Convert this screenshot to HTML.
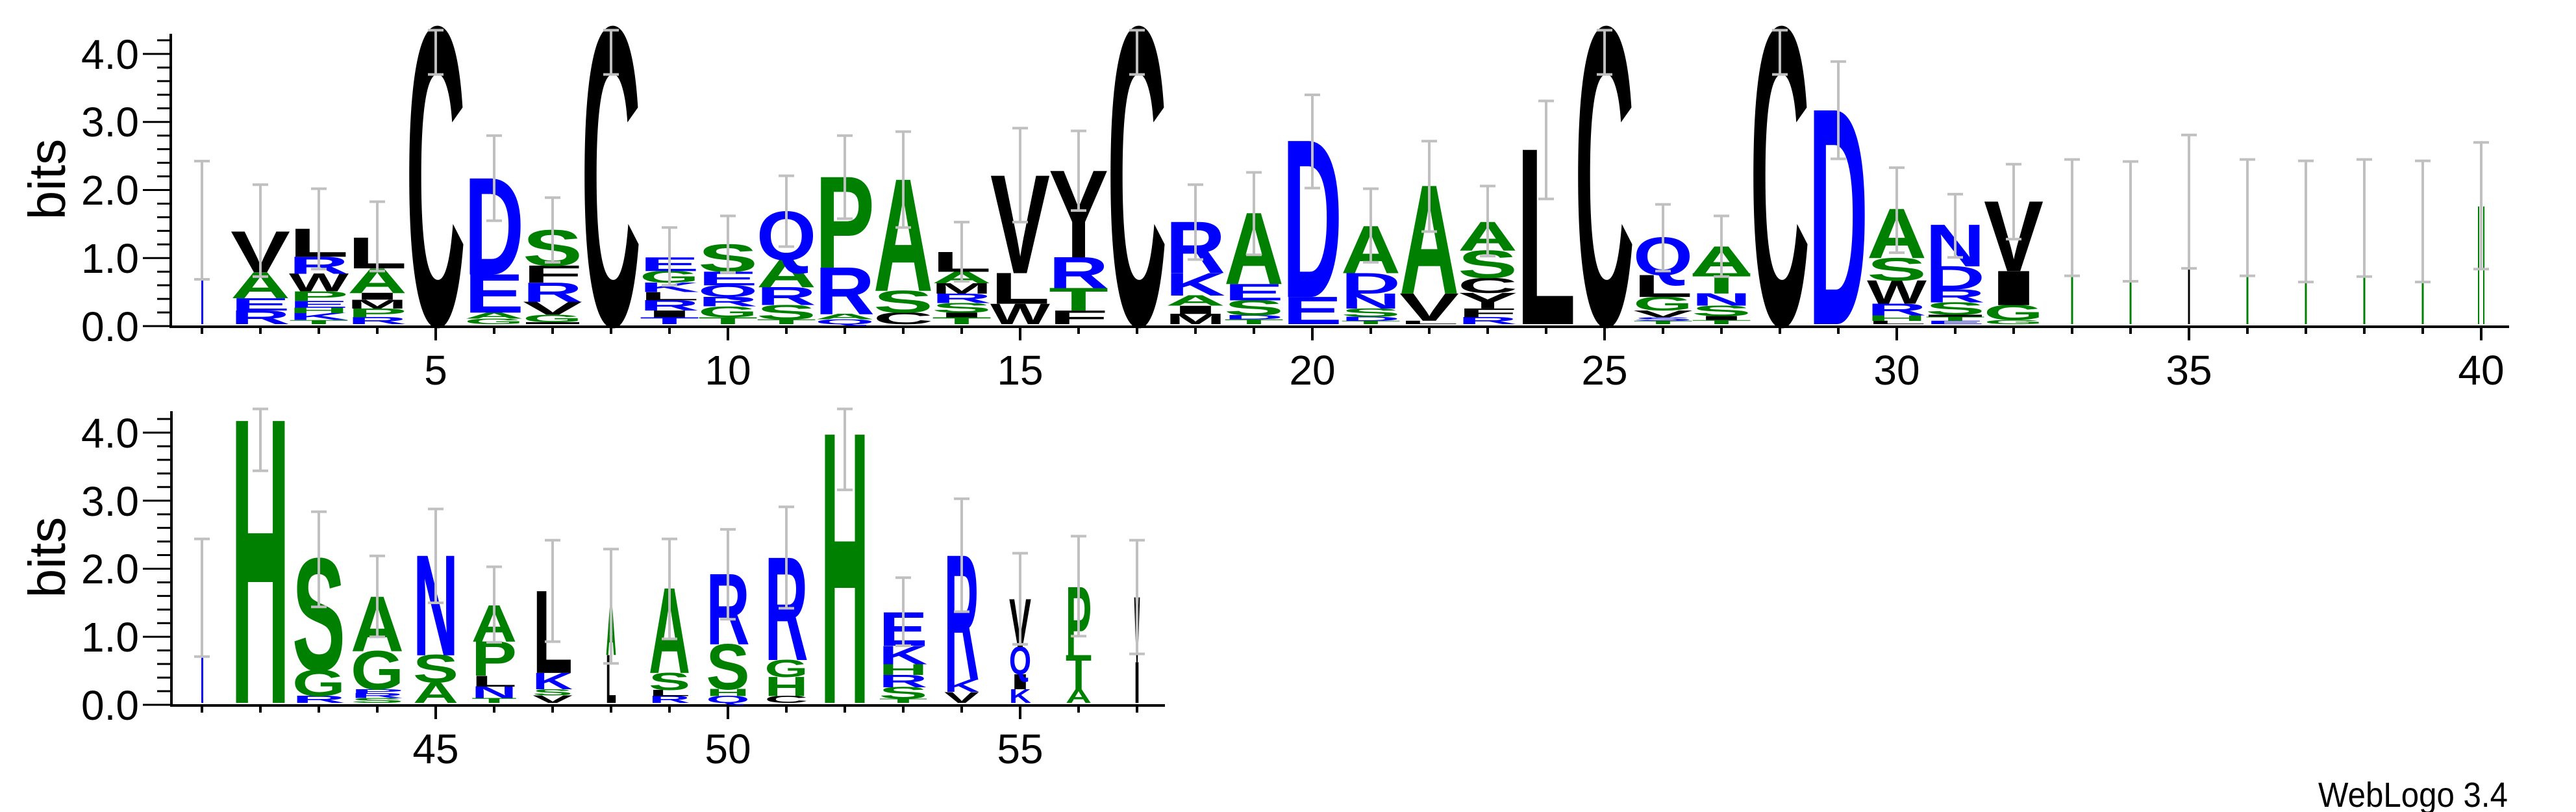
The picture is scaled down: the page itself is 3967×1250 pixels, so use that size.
<!DOCTYPE html>
<html><head><meta charset="utf-8"><style>
html,body{margin:0;padding:0;background:#fff}
svg{display:block}
.l{font-family:"Liberation Sans",sans-serif;font-weight:bold;font-size:106px}
.g{fill:#008000}.b{fill:#0000ff}.k{fill:#000}
.t{font-family:"Liberation Sans",sans-serif;font-size:64px;fill:#000}
.e{stroke:#c0c0c0;stroke-width:4;fill:none}
</style></head><body>
<svg width="3967" height="1250" viewBox="0 0 3967 1250" xmlns="http://www.w3.org/2000/svg">
<rect width="3967" height="1250" fill="#fff"/>
<!-- axes -->
<g stroke="#000" fill="none">
<path stroke-width="4" d="M263 52V504M264 1085V633"/>
<path stroke-width="4" d="M261 503H3864M262 1086H1794"/>
<path stroke-width="3" d="M220 502H263M242 481.05H263M242 460.1H263M242 439.15H263M242 418.2H263M220 397.25H263M242 376.3H263M242 355.35H263M242 334.4H263M242 313.45H263M220 292.5H263M242 271.55H263M242 250.6H263M242 229.65H263M242 208.7H263M220 187.75H263M242 166.8H263M242 145.85H263M242 124.9H263M242 103.95H263M220 83H263M242 62.05H263"/>
<path stroke-width="3" d="M220 1085H264M242 1064.05H264M242 1043.1H264M242 1022.15H264M242 1001.2H264M220 980.25H264M242 959.3H264M242 938.35H264M242 917.4H264M242 896.45H264M220 875.5H264M242 854.55H264M242 833.6H264M242 812.65H264M242 791.7H264M220 770.75H264M242 749.8H264M242 728.85H264M242 707.9H264M242 686.95H264M220 666H264M242 645.05H264"/>
<path stroke-width="4" d="M311 503V514M401 503V514M491 503V514M581 503V514M671 503V524M761 503V514M851 503V514M941 503V514M1031 503V514M1121 503V524M1211 503V514M1301 503V514M1391 503V514M1481 503V514M1571 503V524M1661 503V514M1751 503V514M1841 503V514M1931 503V514M2021 503V524M2111 503V514M2201 503V514M2291 503V514M2381 503V514M2471 503V524M2561 503V514M2651 503V514M2741 503V514M2831 503V514M2921 503V524M3011 503V514M3101 503V514M3191 503V514M3281 503V514M3371 503V524M3461 503V514M3551 503V514M3641 503V514M3731 503V514M3821 503V524"/>
<path stroke-width="4" d="M311 1086V1097M401 1086V1097M491 1086V1097M581 1086V1097M671 1086V1107M761 1086V1097M851 1086V1097M941 1086V1097M1031 1086V1097M1121 1086V1107M1211 1086V1097M1301 1086V1097M1391 1086V1097M1481 1086V1097M1571 1086V1107M1661 1086V1097M1751 1086V1097"/>
</g>
<!-- labels -->
<g class="t" text-anchor="end">
<text x="214" y="525">0.0</text><text x="214" y="420">1.0</text><text x="214" y="315">2.0</text><text x="214" y="210">3.0</text><text x="214" y="106">4.0</text>
<text x="214" y="1108">0.0</text><text x="214" y="1003">1.0</text><text x="214" y="898">2.0</text><text x="214" y="794">3.0</text><text x="214" y="689">4.0</text>
</g>
<g class="t" text-anchor="middle">
<text x="671" y="592">5</text><text x="1121" y="592">10</text><text x="1571" y="592">15</text><text x="2021" y="592">20</text><text x="2471" y="592">25</text><text x="2921" y="592">30</text><text x="3371" y="592">35</text><text x="3821" y="592">40</text>
<text x="671" y="1175">45</text><text x="1121" y="1175">50</text><text x="1571" y="1175">55</text>
</g>
<text class="t" style="font-size:80px" text-anchor="middle" transform="translate(100,276) rotate(-90)">bits</text>
<text class="t" style="font-size:80px" text-anchor="middle" transform="translate(100,858) rotate(-90)">bits</text>
<text class="t" style="font-size:54px" x="3570" y="1242" textLength="292" lengthAdjust="spacingAndGlyphs">WebLogo 3.4</text>

<g transform="translate(0,-3)">
<!-- top panel letters -->
<rect class="b" x="310" y="342" width="3" height="160"/>
<text class="l b" textLength="92" lengthAdjust="spacingAndGlyphs" transform="translate(355,502) scale(1,.287)">R</text>
<text class="l b" textLength="92" lengthAdjust="spacingAndGlyphs" transform="translate(355,481) scale(1,.259)">E</text>
<text class="l g" textLength="92" lengthAdjust="spacingAndGlyphs" transform="translate(355,462.1) scale(1,.546)">A</text>
<text class="l k" textLength="92" lengthAdjust="spacingAndGlyphs" transform="translate(355,422.3) scale(1,.862)">V</text>

<text class="l g" textLength="92" lengthAdjust="spacingAndGlyphs" transform="translate(445,502) scale(1,.086)">T</text>
<text class="l b" textLength="92" lengthAdjust="spacingAndGlyphs" transform="translate(445,495.7) scale(1,.144)">K</text>
<text class="l g" textLength="92" lengthAdjust="spacingAndGlyphs" transform="translate(445,485.2) scale(1,.115)">H</text>
<text class="l b" textLength="92" lengthAdjust="spacingAndGlyphs" transform="translate(445,476.8) scale(1,.144)">E</text>
<text class="l g" textLength="92" lengthAdjust="spacingAndGlyphs" transform="translate(445,466.3) scale(1,.201)">P</text>
<text class="l k" textLength="92" lengthAdjust="spacingAndGlyphs" transform="translate(445,451.6) scale(1,.374)">W</text>
<text class="l b" textLength="92" lengthAdjust="spacingAndGlyphs" transform="translate(445,424.4) scale(1,.359)">R</text>
<text class="l k" textLength="92" lengthAdjust="spacingAndGlyphs" transform="translate(445,398.2) scale(1,.589)">L</text>

<text class="l b" textLength="92" lengthAdjust="spacingAndGlyphs" transform="translate(535,502) scale(1,.144)">R</text>
<text class="l g" textLength="92" lengthAdjust="spacingAndGlyphs" transform="translate(535,491.5) scale(1,.187)">P</text>
<text class="l k" textLength="92" lengthAdjust="spacingAndGlyphs" transform="translate(535,477.9) scale(1,.187)">M</text>
<text class="l k" textLength="92" lengthAdjust="spacingAndGlyphs" transform="translate(535,464.3) scale(1,.144)">I</text>
<text class="l g" textLength="92" lengthAdjust="spacingAndGlyphs" transform="translate(535,453.8) scale(1,.517)">A</text>
<text class="l k" textLength="92" lengthAdjust="spacingAndGlyphs" transform="translate(535,416.1) scale(1,.647)">L</text>

<text class="l k" textLength="92" lengthAdjust="spacingAndGlyphs" transform="translate(625,502) scale(1,6.207)">C</text>

<text class="l g" textLength="92" lengthAdjust="spacingAndGlyphs" transform="translate(715,502) scale(1,.115)">G</text>
<text class="l g" textLength="92" lengthAdjust="spacingAndGlyphs" transform="translate(715,493.6) scale(1,.129)">A</text>
<text class="l b" textLength="92" lengthAdjust="spacingAndGlyphs" transform="translate(715,484.2) scale(1,.805)">E</text>
<text class="l b" textLength="92" lengthAdjust="spacingAndGlyphs" transform="translate(715,425.5) scale(1,2.026)">D</text>

<rect class="k" x="810" y="498.9" width="82" height="3"/>
<text class="l g" textLength="92" lengthAdjust="spacingAndGlyphs" transform="translate(805,498.9) scale(1,.158)">G</text>
<text class="l k" textLength="92" lengthAdjust="spacingAndGlyphs" transform="translate(805,487.4) scale(1,.273)">V</text>
<text class="l b" textLength="92" lengthAdjust="spacingAndGlyphs" transform="translate(805,467.5) scale(1,.402)">R</text>
<text class="l k" textLength="92" lengthAdjust="spacingAndGlyphs" transform="translate(805,438.1) scale(1,.359)">F</text>
<text class="l g" textLength="92" lengthAdjust="spacingAndGlyphs" transform="translate(805,411.9) scale(1,.747)">S</text>

<text class="l k" textLength="92" lengthAdjust="spacingAndGlyphs" transform="translate(895,502) scale(1,6.207)">C</text>

<text class="l b" textLength="92" lengthAdjust="spacingAndGlyphs" transform="translate(985,502) scale(1,.144)">T</text>
<text class="l k" textLength="92" lengthAdjust="spacingAndGlyphs" transform="translate(985,491.5) scale(1,.144)">I</text>
<text class="l b" textLength="92" lengthAdjust="spacingAndGlyphs" transform="translate(985,481) scale(1,.216)">R</text>
<text class="l k" textLength="92" lengthAdjust="spacingAndGlyphs" transform="translate(985,465.3) scale(1,.172)">L</text>
<text class="l b" textLength="92" lengthAdjust="spacingAndGlyphs" transform="translate(985,452.7) scale(1,.201)">K</text>
<text class="l g" textLength="92" lengthAdjust="spacingAndGlyphs" transform="translate(985,438) scale(1,.244)">G</text>
<text class="l b" textLength="92" lengthAdjust="spacingAndGlyphs" transform="translate(985,420.2) scale(1,.287)">E</text>

<text class="l g" textLength="92" lengthAdjust="spacingAndGlyphs" transform="translate(1075,502) scale(1,.144)">T</text>
<text class="l g" textLength="92" lengthAdjust="spacingAndGlyphs" transform="translate(1075,491.5) scale(1,.23)">G</text>
<text class="l b" textLength="92" lengthAdjust="spacingAndGlyphs" transform="translate(1075,474.7) scale(1,.201)">R</text>
<text class="l b" textLength="92" lengthAdjust="spacingAndGlyphs" transform="translate(1075,460) scale(1,.244)">Q</text>
<text class="l b" textLength="92" lengthAdjust="spacingAndGlyphs" transform="translate(1075,442.2) scale(1,.287)">E</text>
<text class="l g" textLength="92" lengthAdjust="spacingAndGlyphs" transform="translate(1075,421.3) scale(1,.575)">S</text>

<text class="l g" textLength="92" lengthAdjust="spacingAndGlyphs" transform="translate(1165,502) scale(1,.101)">T</text>
<text class="l g" textLength="92" lengthAdjust="spacingAndGlyphs" transform="translate(1165,494.7) scale(1,.302)">S</text>
<text class="l b" textLength="92" lengthAdjust="spacingAndGlyphs" transform="translate(1165,472.7) scale(1,.374)">R</text>
<text class="l g" textLength="92" lengthAdjust="spacingAndGlyphs" transform="translate(1165,445.5) scale(1,.575)">A</text>
<text class="l b" textLength="92" lengthAdjust="spacingAndGlyphs" transform="translate(1165,403.6) scale(1,1.02)">Q</text>

<text class="l b" textLength="92" lengthAdjust="spacingAndGlyphs" transform="translate(1255,502) scale(1,.101)">Q</text>
<text class="l g" textLength="92" lengthAdjust="spacingAndGlyphs" transform="translate(1255,494.7) scale(1,.115)">A</text>
<text class="l b" textLength="92" lengthAdjust="spacingAndGlyphs" transform="translate(1255,486.3) scale(1,.977)">R</text>
<text class="l g" textLength="92" lengthAdjust="spacingAndGlyphs" transform="translate(1255,415.1) scale(1,1.911)">P</text>

<text class="l k" textLength="92" lengthAdjust="spacingAndGlyphs" transform="translate(1345,502) scale(1,.244)">C</text>
<text class="l g" textLength="92" lengthAdjust="spacingAndGlyphs" transform="translate(1345,484.2) scale(1,.46)">S</text>
<text class="l g" textLength="92" lengthAdjust="spacingAndGlyphs" transform="translate(1345,450.7) scale(1,2.342)">A</text>

<text class="l g" textLength="92" lengthAdjust="spacingAndGlyphs" transform="translate(1435,502) scale(1,.144)">T</text>
<text class="l k" textLength="92" lengthAdjust="spacingAndGlyphs" transform="translate(1435,491.5) scale(1,.101)">I</text>
<text class="l g" textLength="92" lengthAdjust="spacingAndGlyphs" transform="translate(1435,484.2) scale(1,.201)">S</text>
<text class="l b" textLength="92" lengthAdjust="spacingAndGlyphs" transform="translate(1435,469.5) scale(1,.201)">R</text>
<text class="l k" textLength="92" lengthAdjust="spacingAndGlyphs" transform="translate(1435,454.9) scale(1,.216)">M</text>
<text class="l g" textLength="92" lengthAdjust="spacingAndGlyphs" transform="translate(1435,439.2) scale(1,.244)">A</text>
<text class="l k" textLength="92" lengthAdjust="spacingAndGlyphs" transform="translate(1435,421.4) scale(1,.417)">L</text>

<text class="l k" textLength="92" lengthAdjust="spacingAndGlyphs" transform="translate(1525,502) scale(1,.431)">W</text>
<text class="l k" textLength="92" lengthAdjust="spacingAndGlyphs" transform="translate(1525,470.6) scale(1,.647)">L</text>
<text class="l k" textLength="92" lengthAdjust="spacingAndGlyphs" transform="translate(1525,423.5) scale(1,2.055)">V</text>

<text class="l k" textLength="92" lengthAdjust="spacingAndGlyphs" transform="translate(1615,502) scale(1,.287)">F</text>
<text class="l g" textLength="92" lengthAdjust="spacingAndGlyphs" transform="translate(1615,481) scale(1,.474)">T</text>
<text class="l b" textLength="92" lengthAdjust="spacingAndGlyphs" transform="translate(1615,446.4) scale(1,.647)">R</text>
<text class="l k" textLength="92" lengthAdjust="spacingAndGlyphs" transform="translate(1615,399.3) scale(1,1.825)">Y</text>

<text class="l k" textLength="92" lengthAdjust="spacingAndGlyphs" transform="translate(1705,502) scale(1,6.207)">C</text>

<text class="l k" textLength="92" lengthAdjust="spacingAndGlyphs" transform="translate(1795,502) scale(1,.216)">M</text>
<text class="l k" textLength="92" lengthAdjust="spacingAndGlyphs" transform="translate(1795,486.3) scale(1,.172)">I</text>
<text class="l g" textLength="92" lengthAdjust="spacingAndGlyphs" transform="translate(1795,473.7) scale(1,.216)">A</text>
<text class="l b" textLength="92" lengthAdjust="spacingAndGlyphs" transform="translate(1795,458) scale(1,.474)">K</text>
<text class="l b" textLength="92" lengthAdjust="spacingAndGlyphs" transform="translate(1795,423.4) scale(1,1.078)">R</text>

<text class="l g" textLength="92" lengthAdjust="spacingAndGlyphs" transform="translate(1885,502) scale(1,.101)">T</text>
<text class="l b" textLength="92" lengthAdjust="spacingAndGlyphs" transform="translate(1885,494.7) scale(1,.086)">D</text>
<text class="l g" textLength="92" lengthAdjust="spacingAndGlyphs" transform="translate(1885,488.4) scale(1,.316)">S</text>
<text class="l b" textLength="92" lengthAdjust="spacingAndGlyphs" transform="translate(1885,465.4) scale(1,.345)">E</text>
<text class="l g" textLength="92" lengthAdjust="spacingAndGlyphs" transform="translate(1885,440.2) scale(1,1.494)">A</text>

<text class="l b" textLength="92" lengthAdjust="spacingAndGlyphs" transform="translate(1975,502) scale(1,.575)">E</text>
<text class="l b" textLength="92" lengthAdjust="spacingAndGlyphs" transform="translate(1975,460.1) scale(1,3.29)">D</text>

<text class="l g" textLength="92" lengthAdjust="spacingAndGlyphs" transform="translate(2065,502) scale(1,.072)">T</text>
<text class="l b" textLength="92" lengthAdjust="spacingAndGlyphs" transform="translate(2065,496.8) scale(1,.086)">D</text>
<text class="l g" textLength="92" lengthAdjust="spacingAndGlyphs" transform="translate(2065,490.5) scale(1,.172)">S</text>
<text class="l b" textLength="92" lengthAdjust="spacingAndGlyphs" transform="translate(2065,477.9) scale(1,.316)">N</text>
<text class="l b" textLength="92" lengthAdjust="spacingAndGlyphs" transform="translate(2065,454.9) scale(1,.431)">D</text>
<text class="l g" textLength="92" lengthAdjust="spacingAndGlyphs" transform="translate(2065,423.4) scale(1,.991)">A</text>

<text class="l k" textLength="92" lengthAdjust="spacingAndGlyphs" transform="translate(2155,502) scale(1,.072)">L</text>
<text class="l k" textLength="92" lengthAdjust="spacingAndGlyphs" transform="translate(2155,496.8) scale(1,.575)">V</text>
<text class="l g" textLength="92" lengthAdjust="spacingAndGlyphs" transform="translate(2155,454.9) scale(1,2.27)">A</text>

<text class="l b" textLength="92" lengthAdjust="spacingAndGlyphs" transform="translate(2245,502) scale(1,.144)">R</text>
<text class="l k" textLength="92" lengthAdjust="spacingAndGlyphs" transform="translate(2245,491.5) scale(1,.187)">F</text>
<text class="l k" textLength="92" lengthAdjust="spacingAndGlyphs" transform="translate(2245,477.9) scale(1,.33)">Y</text>
<text class="l k" textLength="92" lengthAdjust="spacingAndGlyphs" transform="translate(2245,453.8) scale(1,.316)">C</text>
<text class="l g" textLength="92" lengthAdjust="spacingAndGlyphs" transform="translate(2245,430.8) scale(1,.575)">S</text>
<text class="l g" textLength="92" lengthAdjust="spacingAndGlyphs" transform="translate(2245,388.9) scale(1,.604)">A</text>

<text class="l k" textLength="92" lengthAdjust="spacingAndGlyphs" transform="translate(2335,502) scale(1,3.678)">L</text>
<text class="l k" textLength="92" lengthAdjust="spacingAndGlyphs" transform="translate(2425,502) scale(1,6.207)">C</text>

<text class="l g" textLength="92" lengthAdjust="spacingAndGlyphs" transform="translate(2515,502) scale(1,.072)">T</text>
<text class="l b" textLength="92" lengthAdjust="spacingAndGlyphs" transform="translate(2515,496.8) scale(1,.072)">S</text>
<text class="l k" textLength="92" lengthAdjust="spacingAndGlyphs" transform="translate(2515,491.5) scale(1,.144)">V</text>
<text class="l g" textLength="92" lengthAdjust="spacingAndGlyphs" transform="translate(2515,481) scale(1,.287)">G</text>
<text class="l k" textLength="92" lengthAdjust="spacingAndGlyphs" transform="translate(2515,460.1) scale(1,.46)">L</text>
<text class="l b" textLength="92" lengthAdjust="spacingAndGlyphs" transform="translate(2515,426.6) scale(1,.79)">Q</text>

<text class="l g" textLength="92" lengthAdjust="spacingAndGlyphs" transform="translate(2605,502) scale(1,.086)">T</text>
<text class="l k" textLength="92" lengthAdjust="spacingAndGlyphs" transform="translate(2605,495.7) scale(1,.086)">I</text>
<text class="l g" textLength="92" lengthAdjust="spacingAndGlyphs" transform="translate(2605,489.4) scale(1,.216)">S</text>
<text class="l b" textLength="92" lengthAdjust="spacingAndGlyphs" transform="translate(2605,473.7) scale(1,.259)">N</text>
<text class="l g" textLength="92" lengthAdjust="spacingAndGlyphs" transform="translate(2605,454.9) scale(1,.431)">T</text>
<text class="l g" textLength="92" lengthAdjust="spacingAndGlyphs" transform="translate(2605,423.4) scale(1,.56)">A</text>

<text class="l k" textLength="92" lengthAdjust="spacingAndGlyphs" transform="translate(2695,502) scale(1,6.207)">C</text>
<text class="l b" textLength="92" lengthAdjust="spacingAndGlyphs" transform="translate(2785,502) scale(1,4.512)">D</text>

<text class="l k" textLength="92" lengthAdjust="spacingAndGlyphs" transform="translate(2875,502) scale(1,.072)">L</text>
<text class="l g" textLength="92" lengthAdjust="spacingAndGlyphs" transform="translate(2875,496.8) scale(1,.115)">H</text>
<text class="l b" textLength="92" lengthAdjust="spacingAndGlyphs" transform="translate(2875,488.4) scale(1,.244)">R</text>
<text class="l k" textLength="92" lengthAdjust="spacingAndGlyphs" transform="translate(2875,470.6) scale(1,.489)">W</text>
<text class="l g" textLength="92" lengthAdjust="spacingAndGlyphs" transform="translate(2875,435) scale(1,.474)">S</text>
<text class="l g" textLength="92" lengthAdjust="spacingAndGlyphs" transform="translate(2875,400.4) scale(1,1.035)">A</text>

<text class="l b" textLength="92" lengthAdjust="spacingAndGlyphs" transform="translate(2965,502) scale(1,.072)">E</text>
<text class="l g" textLength="92" lengthAdjust="spacingAndGlyphs" transform="translate(2965,496.8) scale(1,.086)">T</text>
<rect class="k" x="2970" y="487.5" width="82" height="3"/>
<text class="l g" textLength="92" lengthAdjust="spacingAndGlyphs" transform="translate(2965,487.4) scale(1,.259)">S</text>
<text class="l b" textLength="92" lengthAdjust="spacingAndGlyphs" transform="translate(2965,468.5) scale(1,.273)">R</text>
<text class="l b" textLength="92" lengthAdjust="spacingAndGlyphs" transform="translate(2965,448.6) scale(1,.489)">D</text>
<text class="l b" textLength="92" lengthAdjust="spacingAndGlyphs" transform="translate(2965,413) scale(1,.877)">N</text>

<text class="l g" textLength="92" lengthAdjust="spacingAndGlyphs" transform="translate(3055,502) scale(1,.086)">G</text>
<text class="l g" textLength="92" lengthAdjust="spacingAndGlyphs" transform="translate(3055,495.7) scale(1,.316)">G</text>
<text class="l k" textLength="92" lengthAdjust="spacingAndGlyphs" transform="translate(3055,472.7) scale(1,.718)">I</text>
<text class="l k" textLength="92" lengthAdjust="spacingAndGlyphs" transform="translate(3055,420.3) scale(1,1.466)">V</text>

<rect class="g" x="3189.5" y="337.5" width="3" height="164.5"/>
<rect class="g" x="3279.5" y="342.8" width="3" height="159.2"/>
<rect class="k" x="3369.5" y="311.4" width="3" height="190.6"/>
<rect class="g" x="3459.5" y="337.5" width="3" height="164.5"/>
<rect class="g" x="3549.5" y="344.9" width="3" height="157.1"/>
<rect class="g" x="3639.5" y="337.5" width="3" height="164.5"/>
<rect class="g" x="3729.5" y="344.9" width="3" height="157.1"/>
<rect class="g" x="3816" y="320.8" width="2" height="181.2"/>
<rect class="g" x="3824" y="320.8" width="2" height="181.2"/>

<!-- bottom panel letters -->
<rect class="b" x="310" y="922.6" width="3" height="162.4"/>
<text class="l g" textLength="92" lengthAdjust="spacingAndGlyphs" transform="translate(355,1085) scale(1,5.949)">H</text>

<text class="l b" textLength="82" lengthAdjust="spacingAndGlyphs" transform="translate(450,1085) scale(1,.144)">R</text>
<text class="l g" textLength="82" lengthAdjust="spacingAndGlyphs" transform="translate(450,1074.5) scale(1,.546)">G</text>
<text class="l g" textLength="82" lengthAdjust="spacingAndGlyphs" transform="translate(450,1034.7) scale(1,2.342)">S</text>

<text class="l g" textLength="82" lengthAdjust="spacingAndGlyphs" transform="translate(540,1085) scale(1,.101)">S</text>
<text class="l b" textLength="82" lengthAdjust="spacingAndGlyphs" transform="translate(540,1077.7) scale(1,.101)">R</text>
<text class="l b" textLength="82" lengthAdjust="spacingAndGlyphs" transform="translate(540,1070.3) scale(1,.086)">P</text>
<text class="l g" textLength="82" lengthAdjust="spacingAndGlyphs" transform="translate(540,1064) scale(1,.805)">G</text>
<text class="l g" textLength="82" lengthAdjust="spacingAndGlyphs" transform="translate(540,1005.4) scale(1,1.15)">A</text>

<text class="l g" textLength="70" lengthAdjust="spacingAndGlyphs" transform="translate(636,1085) scale(1,.431)">A</text>
<text class="l g" textLength="70" lengthAdjust="spacingAndGlyphs" transform="translate(636,1053.6) scale(1,.575)">S</text>
<text class="l b" textLength="70" lengthAdjust="spacingAndGlyphs" transform="translate(636,1011.7) scale(1,2.098)">N</text>

<text class="l g" textLength="70" lengthAdjust="spacingAndGlyphs" transform="translate(726,1085) scale(1,.101)">T</text>
<text class="l b" textLength="70" lengthAdjust="spacingAndGlyphs" transform="translate(726,1077.7) scale(1,.244)">N</text>
<text class="l k" textLength="70" lengthAdjust="spacingAndGlyphs" transform="translate(726,1059.9) scale(1,.23)">L</text>
<text class="l g" textLength="70" lengthAdjust="spacingAndGlyphs" transform="translate(726,1043.1) scale(1,.718)">P</text>
<text class="l g" textLength="70" lengthAdjust="spacingAndGlyphs" transform="translate(726,990.7) scale(1,.762)">A</text>

<text class="l k" textLength="62" lengthAdjust="spacingAndGlyphs" transform="translate(820,1085) scale(1,.158)">V</text>
<text class="l g" textLength="62" lengthAdjust="spacingAndGlyphs" transform="translate(820,1073.5) scale(1,.129)">S</text>
<text class="l b" textLength="62" lengthAdjust="spacingAndGlyphs" transform="translate(820,1064.1) scale(1,.345)">K</text>
<text class="l k" textLength="62" lengthAdjust="spacingAndGlyphs" transform="translate(820,1038.9) scale(1,1.724)">L</text>

<text class="l k" textLength="16" lengthAdjust="spacingAndGlyphs" transform="translate(933,1085) scale(1,1.006)">L</text>
<text class="l g" textLength="16" lengthAdjust="spacingAndGlyphs" transform="translate(933,1011.7) scale(1,1.035)">A</text>

<text class="l b" textLength="64" lengthAdjust="spacingAndGlyphs" transform="translate(999,1085) scale(1,.144)">R</text>
<text class="l k" textLength="64" lengthAdjust="spacingAndGlyphs" transform="translate(999,1074.5) scale(1,.129)">L</text>
<text class="l g" textLength="64" lengthAdjust="spacingAndGlyphs" transform="translate(999,1065.1) scale(1,.359)">S</text>
<text class="l g" textLength="64" lengthAdjust="spacingAndGlyphs" transform="translate(999,1038.9) scale(1,1.782)">A</text>

<text class="l b" textLength="67" lengthAdjust="spacingAndGlyphs" transform="translate(1087.5,1085) scale(1,.144)">Q</text>
<text class="l g" textLength="67" lengthAdjust="spacingAndGlyphs" transform="translate(1087.5,1074.5) scale(1,.144)">H</text>
<text class="l g" textLength="67" lengthAdjust="spacingAndGlyphs" transform="translate(1087.5,1064) scale(1,.948)">S</text>
<text class="l b" textLength="67" lengthAdjust="spacingAndGlyphs" transform="translate(1087.5,994.9) scale(1,1.48)">R</text>

<text class="l k" textLength="67" lengthAdjust="spacingAndGlyphs" transform="translate(1177.5,1085) scale(1,.144)">C</text>
<text class="l g" textLength="67" lengthAdjust="spacingAndGlyphs" transform="translate(1177.5,1074.5) scale(1,.402)">H</text>
<text class="l g" textLength="67" lengthAdjust="spacingAndGlyphs" transform="translate(1177.5,1045.2) scale(1,.359)">G</text>
<text class="l b" textLength="67" lengthAdjust="spacingAndGlyphs" transform="translate(1177.5,1019) scale(1,2.155)">R</text>

<text class="l g" textLength="75" lengthAdjust="spacingAndGlyphs" transform="translate(1263.5,1085) scale(1,5.661)">H</text>

<text class="l g" textLength="75" lengthAdjust="spacingAndGlyphs" transform="translate(1353.5,1085) scale(1,.086)">T</text>
<text class="l g" textLength="75" lengthAdjust="spacingAndGlyphs" transform="translate(1353.5,1078.7) scale(1,.244)">S</text>
<text class="l b" textLength="75" lengthAdjust="spacingAndGlyphs" transform="translate(1353.5,1060.9) scale(1,.259)">R</text>
<text class="l g" textLength="75" lengthAdjust="spacingAndGlyphs" transform="translate(1353.5,1042) scale(1,.23)">H</text>
<text class="l b" textLength="75" lengthAdjust="spacingAndGlyphs" transform="translate(1353.5,1025.3) scale(1,.388)">K</text>
<text class="l b" textLength="75" lengthAdjust="spacingAndGlyphs" transform="translate(1353.5,997) scale(1,.704)">E</text>

<text class="l k" textLength="54" lengthAdjust="spacingAndGlyphs" transform="translate(1454,1085) scale(1,.23)">V</text>
<text class="l b" textLength="54" lengthAdjust="spacingAndGlyphs" transform="translate(1454,1068.2) scale(1,.259)">K</text>
<text class="l b" textLength="54" lengthAdjust="spacingAndGlyphs" transform="translate(1454,1049.4) scale(1,2.615)">R</text>

<text class="l b" textLength="34" lengthAdjust="spacingAndGlyphs" transform="translate(1554,1085) scale(1,.287)">K</text>
<text class="l k" textLength="34" lengthAdjust="spacingAndGlyphs" transform="translate(1554,1064) scale(1,.316)">I</text>
<text class="l b" textLength="34" lengthAdjust="spacingAndGlyphs" transform="translate(1554,1041) scale(1,.575)">Q</text>
<text class="l k" textLength="34" lengthAdjust="spacingAndGlyphs" transform="translate(1554,999.1) scale(1,1.006)">V</text>

<text class="l g" textLength="40" lengthAdjust="spacingAndGlyphs" transform="translate(1641,1085) scale(1,.287)">A</text>
<text class="l g" textLength="40" lengthAdjust="spacingAndGlyphs" transform="translate(1641,1064) scale(1,.718)">T</text>
<text class="l g" textLength="40" lengthAdjust="spacingAndGlyphs" transform="translate(1641,1011.7) scale(1,1.437)">P</text>

<text class="l k" textLength="9" lengthAdjust="spacingAndGlyphs" transform="translate(1746.5,1085) scale(1,.862)">I</text>
<text class="l k" textLength="9" lengthAdjust="spacingAndGlyphs" transform="translate(1746.5,1022.2) scale(1,1.365)">V</text>

<!-- error bars -->
<path class="e" d="M311 251V433M299 251H323M299 433H323M401 287.3V428.7M389 287.3H413M389 428.7H413M491 293.5V417.2M479 293.5H503M479 417.2H503M581 313.5V420.3M569 313.5H593M569 420.3H593M671 49.5V117.6M659 49.5H683M659 117.6H683M761 211.8V342.8M749 211.8H773M749 342.8H773M851 307.2V406.7M839 307.2H863M839 406.7H863M941 49.5V117.6M929 49.5H953M929 117.6H953M1031 353.3V442.3M1019 353.3H1043M1019 442.3H1043M1121 335.4V422.4M1109 335.4H1133M1109 422.4H1133M1211 273.6V382.6M1199 273.6H1223M1199 382.6H1223M1301 211.8V339.6M1289 211.8H1313M1289 339.6H1313M1391 205.6V353.3M1379 205.6H1403M1379 353.3H1403M1481 344.9V436M1469 344.9H1493M1469 436H1493M1571 200.3V344.9M1559 200.3H1583M1559 344.9H1583M1661 204.5V327.1M1649 204.5H1673M1649 327.1H1673M1751 49.5V117.6M1739 49.5H1763M1739 117.6H1763M1841 287.3V402.5M1829 287.3H1853M1829 402.5H1853M1931 268.4V395.2M1919 268.4H1943M1919 395.2H1943M2021 149V292.5M2009 149H2033M2009 292.5H2033M2111 293.5V406.7M2099 293.5H2123M2099 406.7H2123M2201 220.2V359.5M2189 220.2H2213M2189 359.5H2213M2291 289.4V397.3M2279 289.4H2303M2279 397.3H2303M2381 158.4V309.3M2369 158.4H2393M2369 309.3H2393M2471 49.5V117.6M2459 49.5H2483M2459 117.6H2483M2561 317.6V420.3M2549 317.6H2573M2549 420.3H2573M2651 335.4V428.7M2639 335.4H2663M2639 428.7H2663M2741 49.5V117.6M2729 49.5H2753M2729 117.6H2753M2831 97.7V247.5M2819 97.7H2843M2819 247.5H2843M2921 261.1V392M2909 261.1H2933M2909 392H2933M3011 301.9V399.3M2999 301.9H3023M2999 399.3H3023M3101 255.8V371.1M3089 255.8H3113M3089 371.1H3113M3191 248.5V427.6M3179 248.5H3203M3179 427.6H3203M3281 251.6V436M3269 251.6H3293M3269 436H3293M3371 210.8V416.1M3359 210.8H3383M3359 416.1H3383M3461 248.5V427.6M3449 248.5H3473M3449 427.6H3473M3551 250.6V437.1M3539 250.6H3563M3539 437.1H3563M3641 248.5V428.7M3629 248.5H3653M3629 428.7H3653M3731 250.6V437.1M3719 250.6H3743M3719 437.1H3743M3821 222.3V417.2M3809 222.3H3833M3809 417.2H3833"/>
<path class="e" d="M311 832.6V1013.8M299 832.6H323M299 1013.8H323M401 632.5V727.8M389 632.5H413M389 727.8H413M491 790.7V937.3M479 790.7H503M479 937.3H503M581 858.7V983.4M569 858.7H593M569 983.4H593M671 786.5V931M659 786.5H683M659 931H683M761 875.5V991.8M749 875.5H773M749 991.8H773M851 834.6V990.7M839 834.6H863M839 990.7H863M941 848.3V1024.2M929 848.3H953M929 1024.2H953M1031 832.6V986.5M1019 832.6H1043M1019 986.5H1043M1121 817.9V956.2M1109 817.9H1133M1109 956.2H1133M1211 783.3V939.4M1199 783.3H1223M1199 939.4H1223M1301 632.5V757.1M1289 632.5H1313M1289 757.1H1313M1391 892.3V997M1379 892.3H1403M1379 997H1403M1481 770.8V944.6M1469 770.8H1493M1469 944.6H1493M1571 854.6V994.9M1559 854.6H1583M1559 994.9H1583M1661 828.4V982.3M1649 828.4H1673M1649 982.3H1673M1751 834.6V1009.6M1739 834.6H1763M1739 1009.6H1763"/>
</g>
</svg>
</body></html>
